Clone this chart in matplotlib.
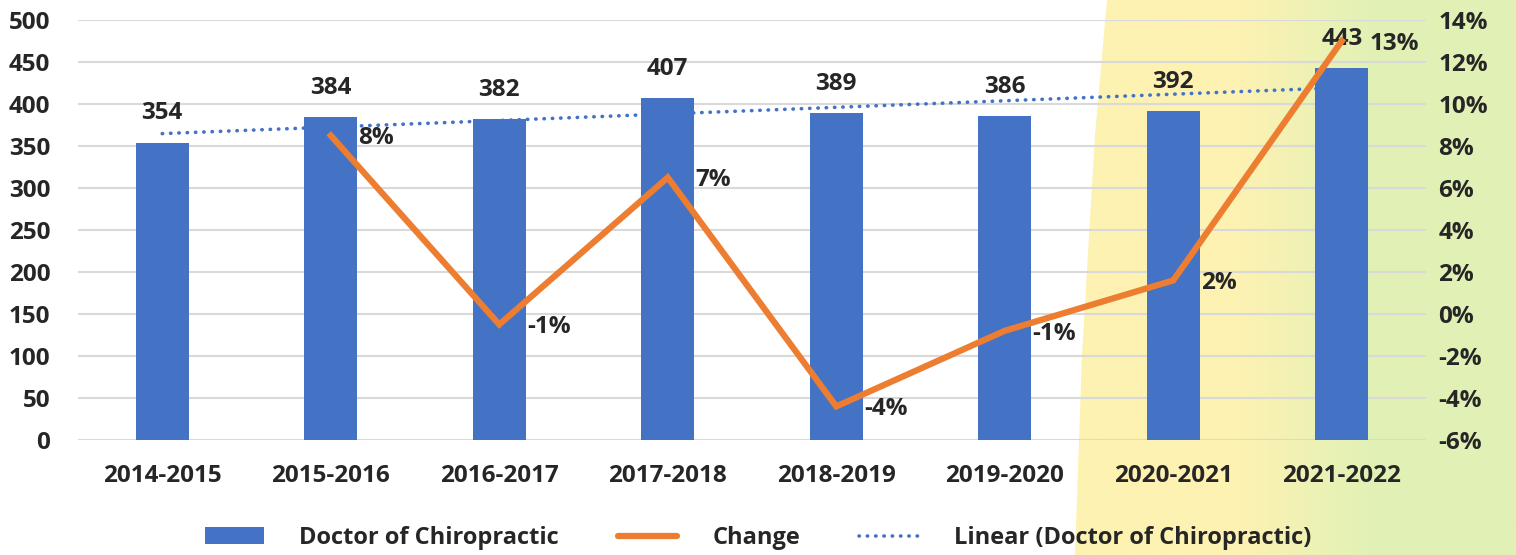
import matplotlib
matplotlib.use("Agg")
import matplotlib.pyplot as plt
import numpy as np
from matplotlib.patches import Polygon
from matplotlib.lines import Line2D
from matplotlib.patches import Patch

plt.rcParams['font.family'] = ['Open Sans', 'DejaVu Sans']
plt.rcParams['font.weight'] = 'bold'

years = ['2014-2015', '2015-2016', '2016-2017', '2017-2018',
         '2018-2019', '2019-2020', '2020-2021', '2021-2022']
doctors = [354, 384, 382, 407, 389, 386, 392, 443]
change = [np.nan, 8.5, -0.5, 6.5, -4.4, -0.8, 1.6, 13.0]
change_labels = ['', '8%', '-1%', '7%', '-4%', '-1%', '2%', '13%']

blue = '#4472C4'
orange = '#ED7D31'
txt = '#262626'
fs = 17.5

W, H = 1516, 555
fig = plt.figure(figsize=(W / 100, H / 100), dpi=100)
fig.patch.set_facecolor('white')

# gradient backdrop on the right
bg = fig.add_axes([0, 0, 1, 1], zorder=0)
bg.set_xlim(0, W)
bg.set_ylim(0, H)
bg.axis('off')
yellow = np.array([253, 242, 178]) / 255
green = np.array([225, 241, 182]) / 255
t = np.clip((np.linspace(0, 1, 400) - 0.38) / 0.3, 0, 1)
grad = (1 - t)[:, None] * yellow + t[:, None] * green
img = bg.imshow(grad[None, :, :], extent=(1070, W, 0, H), aspect='auto')
clip = Polygon([(1075, 0), (1082, 200), (1095, 420), (1107, H), (W, H), (W, 0)],
               closed=True, transform=bg.transData, facecolor='none', edgecolor='none')
bg.add_patch(clip)
img.set_clip_path(clip)

ax = fig.add_axes([78 / W, 115 / H, (1426 - 78) / W, 420 / H], zorder=1)
ax.patch.set_alpha(0)
x = np.arange(len(years))

ax.bar(x, doctors, width=0.315, color=blue, zorder=3)
for xi, v in zip(x, doctors):
    ax.annotate(str(v), (xi, v), xytext=(0, 21), textcoords='offset points',
                ha='center', va='center', fontsize=fs, color=txt, fontweight='bold')

# linear trend of the bars
k, b = np.polyfit(x, doctors, 1)
ax.plot(x, k * x + b, linestyle=(0, (0.1, 2.2)), dash_capstyle='round',
        color=blue, linewidth=2.6, zorder=4)

ax.set_ylim(0, 500)
ax.set_xlim(-0.5, 7.5)
ax.set_yticks(range(0, 501, 50))
ax.set_xticks(x)
ax.set_xticklabels(years)
ax.grid(axis='y', color='#D9D9D9', linewidth=1.5, zorder=0)
ax.set_axisbelow(True)
for s in ax.spines.values():
    s.set_visible(False)
ax.tick_params(length=0, labelsize=fs, labelcolor=txt)
ax.tick_params(axis='x', pad=17)
ax.tick_params(axis='y', pad=20)

ax2 = ax.twinx()
ax2.plot(x, change, color=orange, linewidth=4.5, zorder=5, solid_joinstyle='miter')
for xi, v, lab in zip(x, change, change_labels):
    if lab:
        ax2.annotate(lab, (xi, v), xytext=(20, -2), textcoords='offset points',
                     ha='left', va='center', fontsize=fs, color=txt, fontweight='bold')
ax2.set_ylim(-6, 14)
ax2.set_yticks(range(-6, 15, 2))
ax2.set_yticklabels([f'{v}%' for v in range(-6, 15, 2)])
for s in ax2.spines.values():
    s.set_visible(False)
ax2.tick_params(length=0, labelsize=fs, labelcolor=txt, pad=9)

handles = [Patch(facecolor=blue),
           Line2D([], [], color=orange, linewidth=4.5, solid_capstyle='round'),
           Line2D([], [], color=blue, linewidth=2.6, linestyle=(0, (0.1, 2.2)),
                  dash_capstyle='round')]
fig.legend(handles, ['Doctor of Chiropractic', 'Change', 'Linear (Doctor of Chiropractic)'],
           loc='center', bbox_to_anchor=(0.5, 17 / H), ncol=3, frameon=False,
           fontsize=17, handlelength=2.5, handleheight=0.75, handletextpad=1.5,
           columnspacing=2.5, labelcolor=txt)

fig.savefig('out.png', dpi=100)
